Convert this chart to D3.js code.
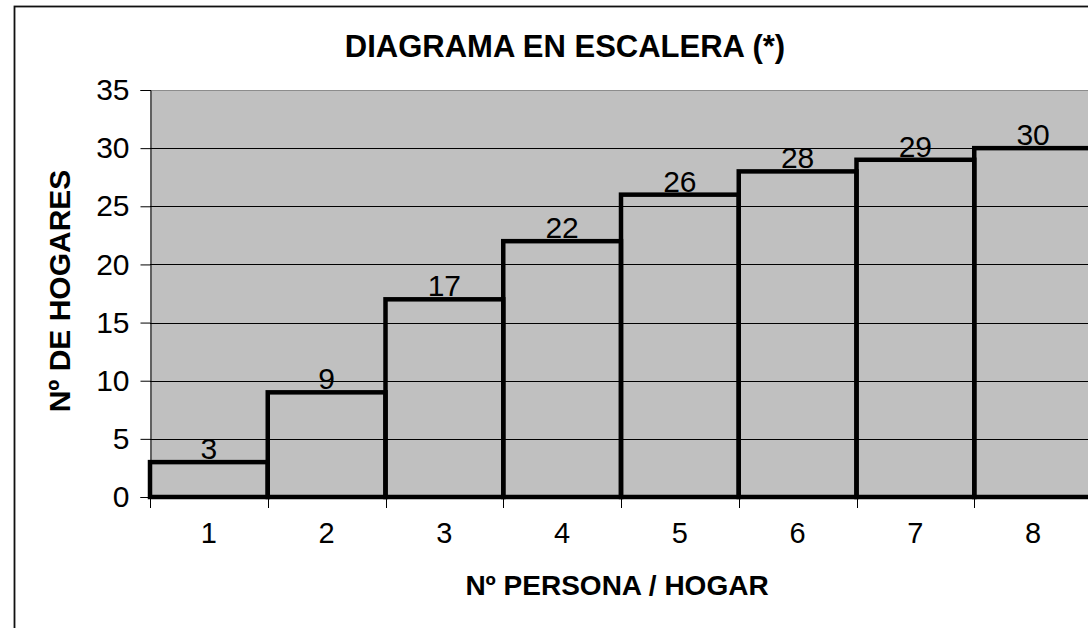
<!DOCTYPE html>
<html>
<head>
<meta charset="utf-8">
<script src="https://cdn.jsdelivr.net/npm/d3@7"></script>
<style>
  html, body { margin: 0; padding: 0; background: #fff; }
  svg { display: block; font-family: Arial, "Liberation Sans", sans-serif; }
</style>
</head>
<body>
<svg id="chart" width="1088" height="628"></svg>
<script>
const categories = ["1", "2", "3", "4", "5", "6", "7", "8"];
const values = [3, 9, 17, 22, 26, 28, 29, 30];
const yTicks = [0, 5, 10, 15, 20, 25, 30, 35];
const titleText = "DIAGRAMA EN ESCALERA (*)";
const xTitle = "Nº PERSONA / HOGAR";
const yTitle = "Nº DE HOGARES";

const svg = d3.select("#chart");
const W = 1088, H = 628;
const plot = { left: 150, right: 1092, top: 90, bottom: 497 };
const FONT = "Arial, 'Liberation Sans', sans-serif";

svg.append("rect").attr("width", W).attr("height", H).attr("fill", "#fff");
// outer chart border
svg.append("rect")
  .attr("x", 14.5).attr("y", 6.5).attr("width", 1200).attr("height", 700)
  .attr("fill", "none").attr("stroke", "#111").attr("stroke-width", 1.8);

const x = d3.scaleBand().domain(categories).range([plot.left, plot.right]).padding(0);
const y = d3.scaleLinear().domain([0, 35]).range([plot.bottom, plot.top]);

// plot area
svg.append("rect")
  .attr("x", plot.left).attr("y", plot.top)
  .attr("width", plot.right - plot.left).attr("height", plot.bottom - plot.top)
  .attr("fill", "#c0c0c0");
svg.append("line")
  .attr("x1", plot.left).attr("x2", plot.right)
  .attr("y1", plot.top + 0.5).attr("y2", plot.top + 0.5)
  .attr("stroke", "#8c8c8c").attr("stroke-width", 1);

// gridlines
svg.append("g").selectAll("line")
  .data(yTicks.filter(t => t > 0 && t < 35))
  .join("line")
  .attr("x1", plot.left).attr("x2", plot.right)
  .attr("y1", d => Math.round(y(d)) + 0.5).attr("y2", d => Math.round(y(d)) + 0.5)
  .attr("stroke", "#000").attr("stroke-width", 1);

// y axis
const yAxis = d3.axisLeft(y).tickValues(yTicks).tickSize(10).tickPadding(11);
const gy = svg.append("g").attr("transform", `translate(${plot.left + 0.5},0)`).call(yAxis);
gy.attr("font-size", null).attr("font-family", null);
gy.select(".domain").attr("stroke", "#000");
gy.selectAll(".tick line").attr("stroke", "#000");
gy.selectAll(".tick text")
  .style("font-size", "30px").attr("fill", "#000")
  .style("font-family", FONT);

// x axis: ticks at band boundaries
const boundaries = categories.map(c => x(c));
svg.append("g").selectAll("line")
  .data(boundaries)
  .join("line")
  .attr("x1", d => Math.round(d) + 0.5).attr("x2", d => Math.round(d) + 0.5)
  .attr("y1", plot.bottom).attr("y2", plot.bottom + 11)
  .attr("stroke", "#000").attr("stroke-width", 1);
svg.append("g").selectAll("text")
  .data(categories)
  .join("text")
  .attr("x", d => x(d) + x.bandwidth() / 2)
  .attr("y", 543)
  .attr("text-anchor", "middle")
  .style("font-size", "29px").attr("fill", "#000")
  .text(d => d);

// bars (staircase)
svg.append("g").selectAll("rect")
  .data(values)
  .join("rect")
  .attr("x", (d, i) => x(categories[i]))
  .attr("y", d => y(d))
  .attr("width", x.bandwidth())
  .attr("height", d => y(0) - y(d))
  .attr("fill", "none")
  .attr("stroke", "#000")
  .attr("stroke-width", 4.5);

// data labels
svg.append("g").selectAll("text")
  .data(values)
  .join("text")
  .attr("x", (d, i) => x(categories[i]) + x.bandwidth() / 2)
  .attr("y", d => y(d) - 3)
  .attr("text-anchor", "middle")
  .style("font-size", "30px").attr("fill", "#000")
  .text(d => d);

// titles
svg.append("text")
  .attr("x", 565).attr("y", 57)
  .attr("text-anchor", "middle")
  .style("font-size", "31px").attr("font-weight", "bold")
  .text(titleText);

svg.append("text")
  .attr("x", 617).attr("y", 595)
  .attr("text-anchor", "middle")
  .style("font-size", "28px").attr("font-weight", "bold")
  .text(xTitle);

svg.append("text")
  .attr("transform", "translate(70,291) rotate(-90)")
  .attr("text-anchor", "middle")
  .style("font-size", "30px").attr("font-weight", "bold")
  .text(yTitle);
</script>
</body>
</html>
